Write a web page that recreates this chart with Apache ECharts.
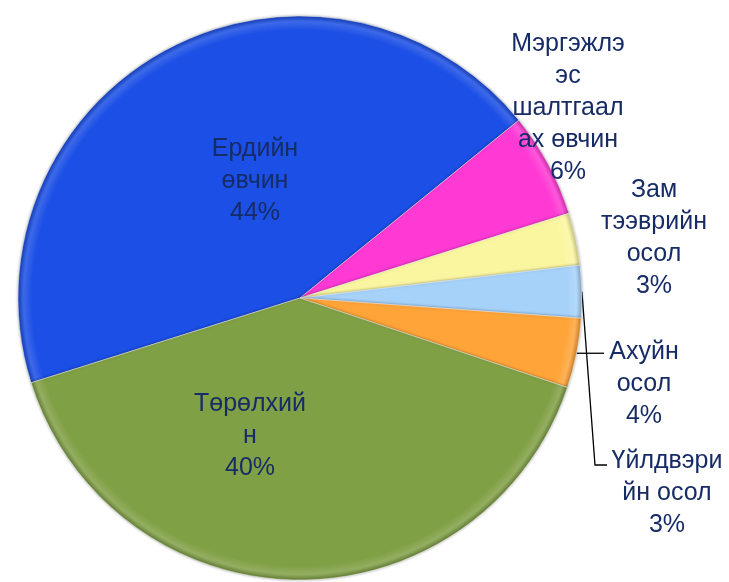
<!DOCTYPE html>
<html>
<head>
<meta charset="utf-8">
<script src="https://cdn.jsdelivr.net/npm/echarts@6/dist/echarts.min.js"></script>
<style>
  html, body { margin: 0; padding: 0; background: #fff; }
  #chart { width: 729px; height: 582px; }
</style>
</head>
<body>
<div id="chart"></div>
<script>
// slices, clockwise from the lower-left edge
var names = ['Ердийн өвчин', 'Мэргэжлээс шалтгаалах өвчин', 'Зам тээврийн осол', 'Үйлдвэрийн осол', 'Ахуйн осол', 'Төрөлхийн'];
var values = [44, 6, 3, 3, 4, 40];
// label text broken the way it is in the picture
var labelText = ['Ердийн\nөвчин', 'Мэргэжлэ\nэс\nшалтгаал\nах өвчин', 'Зам\nтээврийн\nосол', 'Үйлдвэри\nйн осол', 'Ахуйн\nосол', 'Төрөлхий\nн'];
var colors = ['#1b4fe5', '#ff39d4', '#faf6a0', '#a6d2fa', '#ffa438', '#80a045'];

var cx = 300, cy = 298, R = 282;
// label centres
var labelPos = [[255, 181], [568, 108], [654, 238], [667, 493], [644, 384], [250, 436]];

function mix(hex, target, t) {
	var a = parseInt(hex.slice(1), 16);
	var r = a >> 16, g = (a >> 8) & 255, b = a & 255;
	r = Math.round(r + (target[0] - r) * t);
	g = Math.round(g + (target[1] - g) * t);
	b = Math.round(b + (target[2] - b) * t);
	return 'rgb(' + r + ',' + g + ',' + b + ')';
}

function sliceFill(c) {
	return new echarts.graphic.RadialGradient(cx, cy, R, [
		{ offset: 0, color: c },
		{ offset: 0.95, color: c },
		{ offset: 0.98, color: mix(c, [255, 255, 255], 0.15) },
		{ offset: 1, color: mix(c, [0, 0, 0], 0.2) }
	], true);
}

var data = [];
for (var i = 0; i < names.length; i++) {
	var withLine = (i === 3 || i === 4);
	data.push({
		name: names[i],
		value: values[i],
		itemStyle: { color: sliceFill(colors[i]) },
		labelLine: { show: withLine }
	});
}

var myChart = echarts.init(document.getElementById('chart'));
var option = {
	animation: false,
	series: [
		{
			type: 'pie',
			center: [cx, cy],
			radius: R,
			startAngle: 197.5,
			clockwise: true,
			data: data,
			itemStyle: {
				borderColor: 'rgba(255,255,255,0.45)',
				borderWidth: 1,
				shadowColor: 'rgba(0,0,0,0.35)',
				shadowBlur: 3
			},
			label: {
				show: true,
				position: 'outside',
				fontFamily: 'Liberation Sans',
				fontSize: 25,
				lineHeight: 32,
				color: '#172c66',
				align: 'center',
				overflow: 'none',
				width: 200,
				formatter: function (p) {
					return labelText[p.dataIndex] + '\n' + p.value + '%';
				}
			},
			labelLine: {
				lineStyle: { color: '#000', width: 1.3 }
			},
			labelLayout: function (p) {
				var i = p.dataIndex;
				var pos = labelPos[i];
				var out = {
					x: pos[0],
					y: pos[1],
					align: 'center',
					verticalAlign: 'middle'
				};
				if (i === 3) {
					var s = p.labelLinePoints ? p.labelLinePoints[0] : [582, 294];
					out.labelLinePoints = [s, [595, 465], [607, 465]];
				} else if (i === 4) {
					var s2 = p.labelLinePoints ? p.labelLinePoints[0] : [576, 358];
					out.labelLinePoints = [s2, [590, s2[1]], [604, s2[1]]];
				}
				return out;
			}
		}
	]
};
myChart.setOption(option);
</script>
</body>
</html>
